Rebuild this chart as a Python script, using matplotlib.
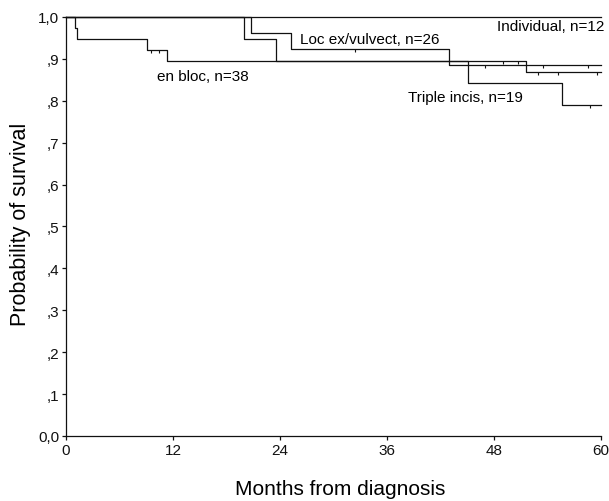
import matplotlib
matplotlib.use("Agg")
import matplotlib.pyplot as plt
from matplotlib.markers import TICKDOWN

plt.rcParams["font.family"] = ["Liberation Sans", "DejaVu Sans"]

# --- Kaplan-Meier step data (months, survival) ---
en_bloc_t   = [0, 1.0, 1.2, 9.1, 11.3, 51.6, 60]
en_bloc_s   = [1.0, 0.974, 0.947, 0.921, 0.895, 0.868, 0.868]
loc_ex_t    = [0, 20.8, 25.2, 42.9, 60]
loc_ex_s    = [1.0, 0.962, 0.923, 0.885, 0.885]
triple_t    = [0, 20.0, 23.5, 45.1, 55.6, 60]
triple_s    = [1.0, 0.947, 0.895, 0.842, 0.789, 0.789]
indiv_t     = [0, 60]
indiv_s     = [1.0, 1.0]

# censored observations
cens_en_bloc_t = [9.5, 10.4, 49.0, 50.7, 52.9, 55.2, 59.6]
cens_en_bloc_s = [0.921, 0.921, 0.895, 0.895, 0.868, 0.868, 0.868]
cens_loc_ex_t  = [32.4, 47.0, 53.5, 58.5]
cens_loc_ex_s  = [0.923, 0.885, 0.885, 0.885]
cens_triple_t  = [58.8]
cens_triple_s  = [0.789]

xticks = [0, 12, 24, 36, 48, 60]
yticks = [0, .1, .2, .3, .4, .5, .6, .7, .8, .9, 1.0]
ytick_labels = ["0,0", ",1", ",2", ",3", ",4", ",5", ",6", ",7", ",8", ",9", "1,0"]

fig = plt.figure(figsize=(6.09, 5.02), dpi=100)
ax = fig.add_axes([0.1084, 0.1295, 0.8785, 0.8347])

line_kw = dict(color="#111111", linewidth=0.9, drawstyle="steps-post", clip_on=False)
ax.plot(indiv_t, indiv_s, **line_kw)
ax.plot(en_bloc_t, en_bloc_s, **line_kw)
ax.plot(loc_ex_t, loc_ex_s, **line_kw)
ax.plot(triple_t, triple_s, **line_kw)

cens_kw = dict(linestyle="none", marker=TICKDOWN, markersize=2, color="#111111",
               markeredgewidth=0.8, clip_on=False)
for t, s in [(cens_en_bloc_t, cens_en_bloc_s), (cens_loc_ex_t, cens_loc_ex_s),
             (cens_triple_t, cens_triple_s)]:
    ax.plot(t, s, **cens_kw)

ax.text(48.3, 0.979, "Individual, n=12", fontsize=11, ha="left", va="center")
ax.text(26.2, 0.947, "Loc ex/vulvect, n=26", fontsize=11, ha="left", va="center")
ax.text(10.2, 0.859, "en bloc, n=38", fontsize=11, ha="left", va="center")
ax.text(38.35, 0.809, "Triple incis, n=19", fontsize=11, ha="left", va="center")

ax.set_xlim(0, 60)
ax.set_ylim(0, 1.0)
ax.set_xticks(xticks)
ax.set_xticklabels([str(x) for x in xticks])
ax.set_yticks(yticks)
ax.set_yticklabels(ytick_labels)
ax.tick_params(direction="out", length=3, width=0.9, labelsize=11, pad=2, colors="#111111")

for side in ["top", "right"]:
    ax.spines[side].set_visible(False)
for side in ["left", "bottom"]:
    ax.spines[side].set_linewidth(0.9)
    ax.spines[side].set_color("#111111")

fig.text(0.558, 0.024, "Months from diagnosis", fontsize=15, ha="center", va="center")
fig.text(0.033, 0.554, "Probability of survival", fontsize=15.5, ha="center", va="center",
         rotation=90)

fig.savefig("out.png", dpi=100)
